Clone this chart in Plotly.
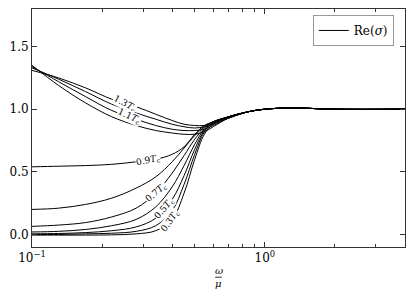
import numpy as np
import plotly.graph_objects as go

omega = [0.1, 0.13, 0.17, 0.22, 0.28, 0.34, 0.4, 0.45, 0.5, 0.55, 0.6, 0.7, 0.85, 1.0, 1.3, 2.0, 4.0]

T_labels = ["1.3", "1.2", "1.1", "1.0", "0.9", "0.8", "0.7", "0.6", "0.5", "0.4", "0.3"]

re_T13 = [1.31, 1.25, 1.17, 1.08, 1.02, 0.96, 0.91, 0.88, 0.87, 0.87, 0.89, 0.93, 0.98, 1.00, 1.01, 1.00, 1.00]
re_T12 = [1.33, 1.24, 1.14, 1.04, 0.97, 0.92, 0.88, 0.86, 0.85, 0.86, 0.88, 0.93, 0.98, 1.00, 1.01, 1.00, 1.00]
re_T11 = [1.34, 1.22, 1.10, 0.99, 0.92, 0.87, 0.84, 0.83, 0.83, 0.84, 0.87, 0.93, 0.98, 1.00, 1.01, 1.00, 1.00]
re_T10 = [1.35, 1.19, 1.05, 0.94, 0.87, 0.83, 0.81, 0.80, 0.80, 0.82, 0.86, 0.93, 0.98, 1.00, 1.01, 1.00, 1.00]
re_T09 = [0.54, 0.545, 0.55, 0.56, 0.58, 0.60, 0.64, 0.70, 0.80, 0.87, 0.90, 0.94, 0.98, 1.00, 1.01, 1.00, 1.00]
re_T08 = [0.20, 0.21, 0.24, 0.29, 0.37, 0.46, 0.58, 0.69, 0.79, 0.86, 0.90, 0.94, 0.98, 1.00, 1.01, 1.00, 1.00]
re_T07 = [0.065, 0.075, 0.095, 0.14, 0.21, 0.33, 0.49, 0.63, 0.76, 0.85, 0.90, 0.94, 0.98, 1.00, 1.01, 1.00, 1.00]
re_T06 = [0.02, 0.025, 0.04, 0.07, 0.12, 0.22, 0.38, 0.55, 0.72, 0.84, 0.89, 0.94, 0.98, 1.00, 1.01, 1.00, 1.00]
re_T05 = [0.005, 0.008, 0.015, 0.03, 0.06, 0.13, 0.28, 0.47, 0.68, 0.83, 0.89, 0.94, 0.98, 1.00, 1.01, 1.00, 1.00]
re_T04 = [0.0, 0.0, 0.005, 0.01, 0.025, 0.07, 0.19, 0.40, 0.64, 0.82, 0.89, 0.94, 0.98, 1.00, 1.01, 1.00, 1.00]
re_T03 = [-0.005, -0.005, -0.005, -0.003, 0.005, 0.03, 0.12, 0.33, 0.60, 0.80, 0.88, 0.94, 0.98, 1.00, 1.01, 1.00, 1.00]

curves = [re_T13, re_T12, re_T11, re_T10, re_T09, re_T08, re_T07, re_T06, re_T05, re_T04, re_T03]

# curve labels: (temperature, omega position, angle)
label_T = ["1.3", "1.1", "0.9", "0.7", "0.5", "0.3"]
label_x = [0.25, 0.262, 0.316, 0.342, 0.37, 0.39]
label_angle = [28, 25, -12, -40, -50, -55]

x_minor = [0.2, 0.3, 0.4, 0.5, 0.6, 0.7, 0.8, 0.9, 2, 3, 4]

FONT = "DejaVu Serif"

fig = go.Figure()
for i, (T, ys) in enumerate(zip(T_labels, curves)):
    fig.add_trace(go.Scatter(
        x=omega, y=ys, mode="lines",
        line=dict(color="black", width=1, shape="spline", smoothing=1.0),
        name="Re(<i>σ</i>)", showlegend=(i == 0),
    ))

for T, xl, ang in zip(label_T, label_x, label_angle):
    ys = curves[T_labels.index(T)]
    yl = float(np.interp(np.log10(xl), np.log10(omega), ys))
    fig.add_annotation(
        x=np.log10(xl), y=yl, xref="x", yref="y",
        text=f"{T}<i>T</i><sub>c</sub>", showarrow=False, textangle=ang,
        font=dict(family=FONT, size=9, color="black"),
        bgcolor="white", borderpad=0,
    )

# x-axis label as a fraction omega / mu
fig.add_annotation(x=0.5, y=-0.100, xref="paper", yref="paper", text="<i>ω</i>",
                   showarrow=False, yanchor="middle",
                   font=dict(family=FONT, size=10, color="black"))
fig.add_annotation(x=0.5, y=-0.155, xref="paper", yref="paper", text="<i>μ</i>",
                   showarrow=False, yanchor="middle",
                   font=dict(family=FONT, size=10, color="black"))
fig.add_shape(type="line", xref="paper", yref="paper", x0=0.491, x1=0.509,
              y0=-0.127, y1=-0.127, line=dict(color="black", width=0.8))

fig.update_xaxes(
    type="log", range=[-1, np.log10(4.0)],
    tickvals=[0.1, 1.0], ticktext=["10<sup>−1</sup>", "10<sup>0</sup>"],
    ticks="inside", ticklen=5, tickcolor="#333", showline=True, linecolor="#333", linewidth=1,
    mirror="ticks", showgrid=False, zeroline=False,
    minor=dict(tickvals=x_minor, ticks="inside", ticklen=3, tickcolor="#333", showgrid=False),
    tickfont=dict(family=FONT, size=12, color="black"),
)
fig.update_yaxes(
    range=[-0.1, 1.8], tickvals=[0.0, 0.5, 1.0, 1.5], ticktext=["0.0", "0.5", "1.0", "1.5"],
    ticks="inside", ticklen=5, tickcolor="#333", showline=True, linecolor="#333", linewidth=1,
    mirror="ticks", showgrid=False, zeroline=False,
    tickfont=dict(family=FONT, size=12, color="black"),
)
fig.update_layout(
    width=399, height=288,
    margin=dict(l=24, r=1.5, t=0.5, b=49),
    paper_bgcolor="white", plot_bgcolor="white",
    legend=dict(x=0.97, y=0.975, xanchor="right", yanchor="top",
                bordercolor="#999", borderwidth=1, bgcolor="white",
                font=dict(family=FONT, size=12, color="black")),
)
fig.write_html("out.html")
